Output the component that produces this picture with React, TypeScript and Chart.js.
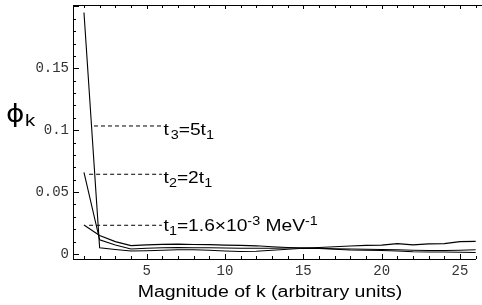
import React, { useEffect, useRef } from 'react';
import { Chart, registerables } from 'chart.js';

Chart.register(...registerables);

// ---- data ----
const ks = [1, 2, 3, 4, 5, 6, 7, 8, 9, 10, 11, 12, 13, 14, 15, 16, 17, 18, 19, 20, 21, 22, 23, 24, 25, 26];
const phiT1 = [0.0234, 0.0150, 0.0100, 0.0068, 0.0074, 0.0078, 0.0080, 0.0077, 0.0076, 0.0072, 0.0070, 0.0066, 0.0058, 0.0052, 0.0048, 0.0046, 0.0042, 0.0040, 0.0038, 0.0036, 0.0034, 0.0030, 0.0028, 0.0028, 0.0030, 0.0034];
const phiT2 = [0.0660, 0.0115, 0.0072, 0.0040, 0.0046, 0.0050, 0.0052, 0.0050, 0.0050, 0.0048, 0.0046, 0.0046, 0.0046, 0.0048, 0.0048, 0.0052, 0.0058, 0.0064, 0.0070, 0.0072, 0.0084, 0.0074, 0.0082, 0.0084, 0.0100, 0.0102];
const phiT3 = [0.1950, 0.0050, 0.0036, 0.0024, 0.0026, 0.0030, 0.0034, 0.0034, 0.0030, 0.0024, 0.0020, 0.0022, 0.0030, 0.0038, 0.0046, 0.0044, 0.0038, 0.0032, 0.0030, 0.0028, 0.0024, 0.0018, 0.0016, 0.0016, 0.0014, 0.0012];

const xTicks = [5, 10, 15, 20, 25];
const yTicks = [0, 0.05, 0.1, 0.15];
const yTickLabels = ['0', '0.05', '0.1', '0.15'];

const xTitle = 'Magnitude of k (arbitrary units)';

// annotation guides: t3, t2, t1
const guideY = [0.1034, 0.0644, 0.0232];
const guideStartK = [1.64, 1.33, 1.33];
const guideEndK = 5.97;
const labelK = 6.08;
const labelBaseY = [0.0961, 0.0571, 0.0186];
type Seg = { t: string; s: 'n' | 'sub' | 'sup' };
const labelT3: Seg[] = [{ t: 't', s: 'n' }, { t: '3', s: 'sub' }, { t: '=5t', s: 'n' }, { t: '1', s: 'sub' }];
const labelT2: Seg[] = [{ t: 't', s: 'n' }, { t: '2', s: 'sub' }, { t: '=2t', s: 'n' }, { t: '1', s: 'sub' }];
const labelT1: Seg[] = [
  { t: 't', s: 'n' }, { t: '1', s: 'sub' }, { t: '=1.6\u00d710', s: 'n' }, { t: '-3', s: 'sup' },
  { t: ' MeV', s: 'n' }, { t: '-1', s: 'sup' },
];
const guideLabels = [labelT3, labelT2, labelT1];

const SX = 1.2; // horizontal stretch of the reference's text

const framePlugin = {
  id: 'framePlugin',
  afterDraw(chart: any) {
    const ctx = chart.ctx as CanvasRenderingContext2D;
    const xs = chart.scales.x;
    const ys = chart.scales.y;
    const { left, right, top, bottom } = chart.chartArea;
    ctx.save();
    ctx.strokeStyle = '#000';
    ctx.lineWidth = 1;
    ctx.beginPath();
    // frame
    ctx.moveTo(left, top + 0.5);
    ctx.lineTo(chart.width, top + 0.5);
    ctx.moveTo(left + 0.5, top);
    ctx.lineTo(left + 0.5, bottom + 1);
    ctx.moveTo(left, bottom + 0.5);
    ctx.lineTo(right - 2, bottom + 0.5);
    // x ticks bottom & top
    for (let k = 1; k <= 26; k++) {
      const px = Math.round(xs.getPixelForValue(k)) + 0.5;
      const major = k % 5 === 0;
      ctx.moveTo(px, bottom);
      ctx.lineTo(px, bottom - (major ? 5 : 3));
      ctx.moveTo(px, top);
      ctx.lineTo(px, top + (major ? 4 : 3));
    }
    // y ticks left
    for (let i = 0; i <= 20; i++) {
      const v = i * 0.01;
      const py = Math.round(ys.getPixelForValue(v)) + 0.5;
      if (py < top + 1) continue;
      const major = i % 5 === 0;
      ctx.moveTo(left, py);
      ctx.lineTo(left + (major ? 6 : 3), py);
    }
    ctx.stroke();

    // guide labels
    ctx.fillStyle = '#000';
    ctx.textBaseline = 'alphabetic';
    guideLabels.forEach((segs, i) => {
      const x0 = xs.getPixelForValue(labelK);
      const y0 = ys.getPixelForValue(labelBaseY[i]);
      ctx.save();
      ctx.translate(x0, y0);
      ctx.scale(SX, 1);
      let cx = 0;
      segs.forEach((sg, j) => {
        let dy = 0;
        if (sg.s === 'n') ctx.font = '16px "Liberation Sans", Arial, sans-serif';
        else ctx.font = '12px "Liberation Sans", Arial, sans-serif';
        if (sg.s === 'sub') dy = 4;
        if (sg.s === 'sup') dy = -6;
        if (sg.s === 'sub' && j === 1 && i === 0) cx += 1.5;
        ctx.fillText(sg.t, cx, dy);
        cx += ctx.measureText(sg.t).width;
      });
      ctx.restore();
    });

    // x title
    ctx.save();
    ctx.font = '16px "Liberation Sans", Arial, sans-serif';
    ctx.textAlign = 'center';
    ctx.translate(270, 297);
    ctx.scale(SX + 0.02, 1);
    ctx.fillText(xTitle, 0, 0);
    ctx.restore();

    // y title phi_k
    ctx.save();
    ctx.translate(6, 122);
    ctx.scale(1.12, 1);
    ctx.font = '25px "DejaVu Sans", sans-serif';
    ctx.fillText('\u03d5', 0, 0);
    ctx.restore();
    ctx.save();
    ctx.translate(25, 126);
    ctx.scale(SX, 1);
    ctx.font = '17px "Liberation Sans", Arial, sans-serif';
    ctx.fillText('k', 0, 0);
    ctx.restore();

    ctx.restore();
  },
};

export default function App() {
  const ref = useRef<HTMLCanvasElement | null>(null);
  useEffect(() => {
    document.body.style.margin = '0';
    if (!ref.current) return;
    const line = (data: number[]) => ({
      data: ks.map((k, i) => ({ x: k, y: data[i] })),
      borderColor: '#000',
      borderWidth: 1.1,
      pointRadius: 0,
      fill: false,
      tension: 0,
    });
    const guide = (i: number) => ({
      data: [
        { x: guideStartK[i], y: guideY[i] },
        { x: guideEndK, y: guideY[i] },
      ],
      borderColor: '#000',
      borderWidth: 1,
      borderDash: [4, 3],
      pointRadius: 0,
      fill: false,
    });
    const chart = new Chart(ref.current, {
      type: 'line',
      data: {
        datasets: [line(phiT3), line(phiT2), line(phiT1), guide(0), guide(1), guide(2)],
      },
      plugins: [framePlugin],
      options: {
        animation: false,
        responsive: false,
        devicePixelRatio: 1,
        layout: { padding: { top: 5, right: 4, left: 0, bottom: 0 } },
        plugins: { legend: { display: false }, tooltip: { enabled: false } },
        scales: {
          x: {
            type: 'linear',
            min: 0.3,
            max: 26.15,
            grid: { display: false, drawTicks: false },
            border: { display: false },
            afterBuildTicks: (s: any) => {
              s.ticks = xTicks.map((v) => ({ value: v }));
            },
            afterFit: (s: any) => {
              s.height = 46;
              s.paddingLeft = 0;
              s.paddingRight = 0;
            },
            ticks: {
              autoSkip: false,
              maxRotation: 0,
              padding: 4,
              color: '#333',
              font: { family: '"Liberation Mono", "Courier New", monospace', size: 14 },
              callback: (v: any) => String(v),
            },
          },
          y: {
            type: 'linear',
            min: -0.00404,
            max: 0.2011,
            grid: { display: false, drawTicks: false },
            border: { display: false },
            afterBuildTicks: (s: any) => {
              s.ticks = yTicks.map((v) => ({ value: v }));
            },
            afterFit: (s: any) => {
              s.width = 73;
              s.paddingTop = 0;
              s.paddingBottom = 0;
            },
            ticks: {
              autoSkip: false,
              padding: 4,
              color: '#333',
              font: { family: '"Liberation Mono", "Courier New", monospace', size: 14 },
              callback: (v: any) => {
                const i = yTicks.findIndex((t) => Math.abs(t - v) < 1e-9);
                return i >= 0 ? yTickLabels[i] : '';
              },
            },
          },
        },
      },
    });
    return () => chart.destroy();
  }, []);
  return (
    <div style={{ width: 482, height: 305, background: '#fff' }}>
      <canvas ref={ref} width={482} height={305} />
    </div>
  );
}
